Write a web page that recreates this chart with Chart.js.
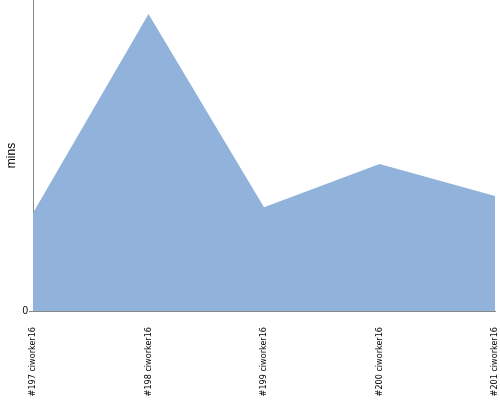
<!DOCTYPE html>
<html><head><meta charset="utf-8">
<script src="https://cdn.jsdelivr.net/npm/chart.js@4"></script>
<style>html,body{margin:0;padding:0;background:#fff}#w{width:500px;height:400px}</style>
</head><body><div id="w"><canvas id="c"></canvas></div>
<script>
const categories = ["#197 ciworker16","#198 ciworker16","#199 ciworker16","#200 ciworker16","#201 ciworker16"];
const minsValues = [31.5, 95.5, 33.4, 47.3, 37.0];
const yTickValues = [0];

new Chart(document.getElementById('c'), {
  type: 'line',
  data: { labels: categories, datasets: [{
    data: minsValues, fill: 'origin', backgroundColor: '#91b3db',
    borderColor: '#91b3db', borderWidth: 0, pointRadius: 0, tension: 0
  }]},
  options: {
    animation: false, responsive: true, maintainAspectRatio: false,
    layout: { autoPadding: false, padding: { top: 0, right: 5, bottom: 0, left: 0 } },
    plugins: { legend: { display: false }, tooltip: { enabled: false } },
    scales: {
      x: {
        offset: false,
        grid: { display: false, drawTicks: false },
        border: { display: true, color: '#888' },
        ticks: { autoSkip: false, minRotation: 90, maxRotation: 90, padding: 16,
          color: '#000', font: { family: 'Liberation Sans Narrow, DejaVu Sans Condensed', size: 9 } },
        afterFit: s => { s.height = 89; s.paddingLeft = 0; s.paddingRight = 0; }
      },
      y: {
        min: 0, max: 100,
        afterBuildTicks: s => { s.ticks = yTickValues.map(v => ({ value: v })); },
        grid: { drawOnChartArea: false, tickLength: 4, color: '#888' },
        border: { display: true, color: '#888' },
        ticks: { color: '#000', padding: 1, font: { family: 'Liberation Sans', size: 10 } },
        title: { display: true, text: 'mins', color: '#000', padding: { top: 4, bottom: 0 },
          font: { family: 'Liberation Sans', size: 12 } },
        afterFit: s => { s.width = 33; s.paddingTop = 0; s.paddingBottom = 0; }
      }
    }
  }
});
</script></body></html>
